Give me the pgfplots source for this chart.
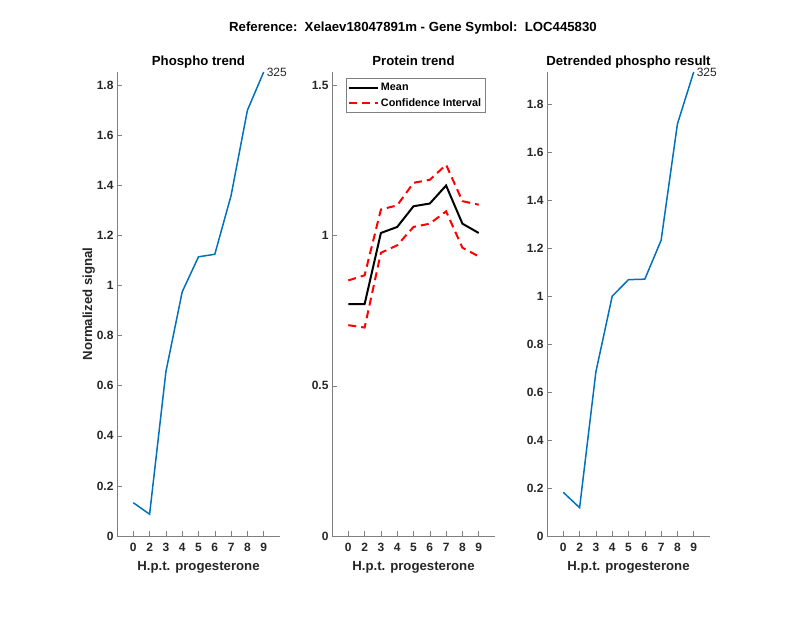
\documentclass[border=0pt]{standalone}
\usepackage{pgfplots}
\pgfplotsset{compat=1.18}
\usepackage{fontspec}
\setmainfont{Liberation Sans}
\definecolor{mblue}{RGB}{0,114,189}
\definecolor{mtext}{RGB}{38,38,38}
\definecolor{axgray}{RGB}{128,128,128}
\pgfplotsset{
  panel/.style={
    scale only axis, width=163pt, height=464pt, anchor=south west,
    axis lines=left, axis line style={axgray, line width=0.6pt, -},
    xmin=0, xmax=10, xtick={1,...,9}, xticklabels={0,2,3,4,5,6,7,8,9},
    tick align=inside, major tick length=5pt,
    tick style={axgray, line width=0.6pt},
    ymin=0,
    tick label style={font=\fontsize{12}{14}\selectfont\bfseries, text=mtext},
    xticklabel style={yshift=-4pt},
    /pgf/number format/assume math mode=true,
    xlabel={H.p.t. progesterone}, xlabel shift=3pt,
    label style={font=\fontsize{13.2}{15}\selectfont\bfseries, text=mtext},
    title style={font=\fontsize{13.2}{15}\selectfont\bfseries, text=black,
      at={(0.5,1)}, anchor=base},
    clip=false,
  }
}
\begin{document}
\begin{tikzpicture}
\path[use as bounding box] (0,0) rectangle (800pt,618pt);
\node[anchor=base, font=\fontsize{13.2}{15}\selectfont\bfseries] at (413pt,586.5pt)
  {Reference:\ \ Xelaev18047891m - Gene Symbol:\ \ LOC445830};

% phospho trend
\begin{axis}[panel, at={(117pt,82pt)},
  title={Phospho trend}, ylabel={Normalized signal}, ylabel shift=-5pt,
  ymax=1.853, ytick={0,0.2,...,1.8}]
\addplot[mblue, line width=1.5pt] coordinates {
  (1,0.133)(2,0.087)(3,0.656)(4,0.975)(5,1.115)(6,1.125)(7,1.36)(8,1.70)(9,1.853)
} node[pos=1, anchor=west, font=\fontsize{12}{14}\selectfont, text=mtext, xshift=-1pt] {325};
\end{axis}

% protein trend
\begin{axis}[panel, at={(332pt,82pt)},
  title={Protein trend},
  ymax=1.545, ytick={0,0.5,1,1.5},
  legend style={at={(axis description cs:0.084,1)}, anchor=north west, yshift=-6pt,
    draw=axgray, line width=0.6pt, fill=white,
    font=\fontsize{10.8}{12}\selectfont\bfseries, text=black,
    inner xsep=2pt, inner ysep=3pt, row sep=2pt},
  legend cell align=left,
  legend image code/.code={\draw[#1] (0pt,0pt) -- (29pt,0pt);}]
\addplot[black, line width=2pt] coordinates {
  (1,0.772)(2,0.772)(3,1.009)(4,1.029)(5,1.098)(6,1.107)(7,1.167)(8,1.040)(9,1.009)
};
\addlegendentry{Mean}
\addplot[red, line width=2pt, dash pattern=on 8pt off 5pt] coordinates {
  (1,0.851)(2,0.868)(3,1.087)(4,1.101)(5,1.176)(6,1.186)(7,1.236)(8,1.115)(9,1.103)
};
\addlegendentry{Confidence Interval}
\addplot[red, line width=2pt, dash pattern=on 8pt off 5pt, forget plot] coordinates {
  (1,0.702)(2,0.694)(3,0.943)(4,0.968)(5,1.029)(6,1.040)(7,1.081)(8,0.960)(9,0.931)
};
\end{axis}

% detrended
\begin{axis}[panel, at={(547pt,82pt)},
  title={Detrended phospho result},
  ymax=1.935, ytick={0,0.2,...,1.8}]
\addplot[mblue, line width=1.5pt] coordinates {
  (1,0.182)(2,0.118)(3,0.685)(4,1.0)(5,1.069)(6,1.071)(7,1.233)(8,1.718)(9,1.935)
} node[pos=1, anchor=west, font=\fontsize{12}{14}\selectfont, text=mtext, xshift=-1pt] {325};
\end{axis}
\end{tikzpicture}
\end{document}
